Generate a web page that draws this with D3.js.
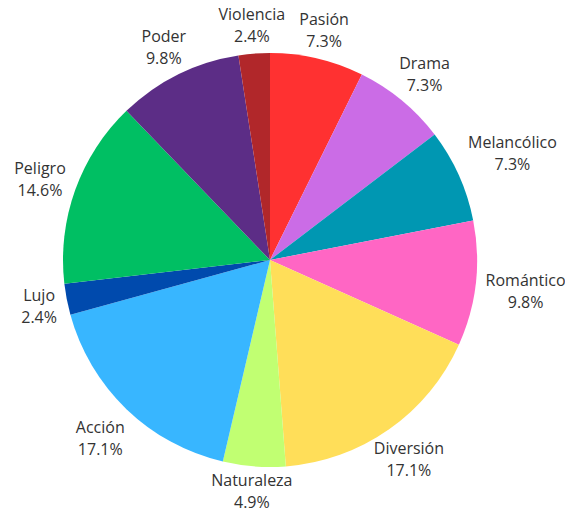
<!DOCTYPE html>
<html><head><meta charset="utf-8">
<script src="https://cdn.jsdelivr.net/npm/d3@7"></script>
<style>html,body{margin:0;padding:0;background:#fff;}</style>
</head><body>
<svg id="chart" width="565" height="514"></svg>
<script>
const categories = ["Pasión","Drama","Melancólico","Romántico","Diversión","Naturaleza","Acción","Lujo","Peligro","Poder","Violencia"];
const counts = [3,3,3,4,7,2,7,1,6,4,1];
const colors = ["#ff3131","#cb6ce6","#0097b2","#ff66c4","#ffde59","#c1ff72","#38b6ff","#004aad","#00bf63","#5c2d86","#b1272a"];

const W = 565, H = 514;
const svg = d3.select("#chart");
const cx = 270, cy = 260, r = 207;
const total = d3.sum(counts);
const data = categories.map((c,i)=>({name:c, value:counts[i], color:colors[i]}));
const pie = d3.pie().sort(null).value(d=>d.value).startAngle(0).endAngle(2*Math.PI);
const arcs = pie(data);
const arc = d3.arc().innerRadius(0).outerRadius(r);
const g = svg.append("g").attr("transform",`translate(${cx},${cy})`);
g.selectAll("path").data(arcs).enter().append("path")
  .attr("d",arc).attr("fill",d=>d.data.color);

const fs = 16, lh = 22, gap = 10, halfH = 20;
arcs.forEach(a=>{
  const mid = (a.startAngle+a.endAngle)/2;
  const s = Math.sin(mid), c = Math.cos(mid);
  const t = g.append("text").attr("font-family","'Open Sans', sans-serif")
    .attr("font-size",fs).attr("fill","#333").attr("text-anchor","middle");
  t.append("tspan").attr("x",0).attr("dy",0).text(a.data.name);
  t.append("tspan").attr("x",0).attr("dy",lh).text(d3.format(".1f")(a.data.value/total*100)+"%");
  const bb = t.node().getBBox();
  const w = bb.width;
  const ext = Math.min(Math.abs(s)>1e-6 ? (w/2)/Math.abs(s) : Infinity,
                       Math.abs(c)>1e-6 ? halfH/Math.abs(c) : Infinity);
  const R = r + gap + ext;
  const ccx = R*s, ccy = -R*c;
  const visualMid = lh/2 - fs*0.36 - 1.5;
  let ty = ccy - visualMid;
  // keep the label block inside the picture
  const maxBottom = H - cy - 1;
  if (ty + bb.y + bb.height > maxBottom) ty = maxBottom - bb.y - bb.height;
  t.attr("transform",`translate(${ccx},${ty})`);
});
</script>
</body></html>
